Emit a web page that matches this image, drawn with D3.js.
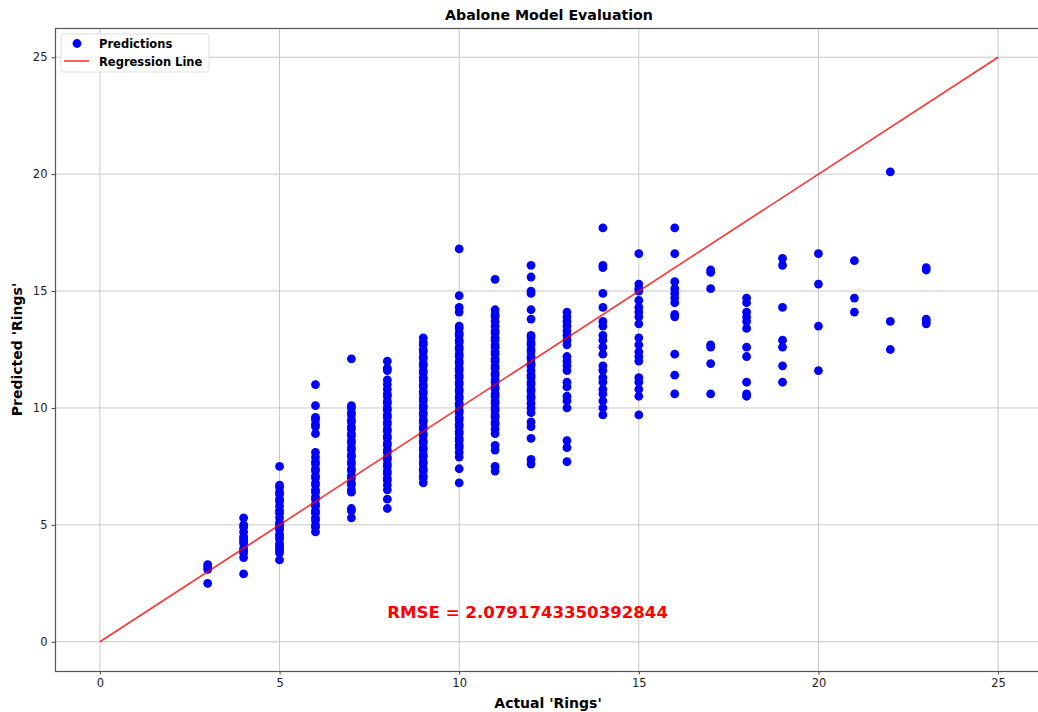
<!DOCTYPE html>
<html>
<head>
<meta charset="utf-8">
<script src="https://cdn.jsdelivr.net/npm/d3@7"></script>
<style>
  body { margin: 0; background: #fff; }
  text { font-family: "DejaVu Sans", sans-serif; }
</style>
</head>
<body>
<div id="viz"></div>
<script>
// Predicted rings for each actual ring count
const pred3 = [3.3, 3.2, 3.1, 2.5];
const pred4 = [5.3, 5.0, 4.9, 4.7, 4.5, 4.4, 4.3, 4.2, 4.0, 3.9, 3.8, 3.6, 2.9];
const pred5 = [7.5, 6.7, 6.6, 6.4, 6.3, 6.1, 6.0, 5.8, 5.6, 5.5, 5.3, 5.1, 5.0, 4.9, 4.8, 4.6, 4.5, 4.4, 4.2, 4.1, 4.0, 3.9, 3.8, 3.5];
const pred6 = [11.0, 10.1, 9.6, 9.5, 9.3, 9.2, 8.9, 8.1, 7.9, 7.7, 7.6, 7.4, 7.3, 7.1, 7.0, 6.8, 6.7, 6.5, 6.4, 6.2, 6.1, 5.9, 5.8, 5.6, 5.5, 5.3, 5.2, 5.0, 4.9, 4.7];
const pred7 = [12.1, 10.1, 10.0, 9.8, 9.7, 9.5, 9.4, 9.2, 9.1, 8.9, 8.8, 8.6, 8.5, 8.3, 8.2, 8.0, 7.9, 7.7, 7.6, 7.4, 7.3, 7.1, 7.0, 6.8, 6.7, 6.5, 6.4, 5.7, 5.6, 5.3];
const pred8 = [12.0, 11.7, 11.6, 11.2, 11.0, 10.8, 10.6, 10.5, 10.3, 10.2, 10.0, 9.9, 9.7, 9.6, 9.4, 9.3, 9.1, 9.0, 8.8, 8.7, 8.5, 8.4, 8.2, 8.1, 7.9, 7.8, 7.6, 7.5, 7.3, 7.2, 7.0, 6.9, 6.7, 6.5, 6.1, 5.7];
const pred9 = [13.0, 12.8, 12.7, 12.5, 12.4, 12.2, 12.1, 11.9, 11.8, 11.6, 11.5, 11.3, 11.2, 11.0, 10.9, 10.7, 10.6, 10.4, 10.3, 10.1, 10.0, 9.8, 9.7, 9.5, 9.4, 9.2, 9.1, 8.9, 8.8, 8.6, 8.5, 8.3, 8.2, 8.0, 7.9, 7.7, 7.6, 7.4, 7.3, 7.1, 7.0, 6.8];
const pred10 = [16.8, 14.8, 14.3, 14.1, 13.5, 13.4, 13.2, 13.1, 12.9, 12.8, 12.6, 12.5, 12.3, 12.2, 12.0, 11.9, 11.7, 11.6, 11.4, 11.3, 11.1, 11.0, 10.8, 10.7, 10.5, 10.4, 10.2, 10.1, 9.9, 9.8, 9.6, 9.5, 9.3, 9.2, 9.0, 8.9, 8.7, 8.6, 8.4, 8.3, 8.1, 7.9, 7.4, 6.8];
const pred11 = [15.5, 14.2, 14.0, 13.9, 13.7, 13.5, 13.3, 13.2, 13.0, 12.9, 12.7, 12.6, 12.4, 12.3, 12.1, 12.0, 11.8, 11.7, 11.5, 11.4, 11.2, 11.1, 10.9, 10.8, 10.6, 10.5, 10.3, 10.2, 10.0, 9.9, 9.7, 9.6, 9.4, 9.3, 9.1, 8.9, 8.4, 8.2, 7.5, 7.3];
const pred12 = [16.1, 15.6, 15.0, 14.9, 14.2, 13.8, 13.1, 13.0, 12.8, 12.7, 12.5, 12.4, 12.2, 12.1, 11.9, 11.8, 11.6, 11.4, 11.3, 11.1, 11.0, 10.8, 10.7, 10.5, 10.4, 10.2, 10.0, 9.8, 9.4, 9.2, 8.7, 7.8, 7.6];
const pred13 = [14.1, 13.9, 13.7, 13.5, 13.3, 13.1, 12.9, 12.7, 12.2, 12.0, 11.8, 11.6, 11.1, 10.9, 10.5, 10.3, 10.0, 8.6, 8.3, 7.7];
const pred14 = [17.7, 16.1, 16.0, 14.9, 14.3, 13.7, 13.5, 13.1, 12.9, 12.6, 12.3, 11.8, 11.6, 11.3, 11.1, 10.8, 10.6, 10.3, 10.0, 9.7];
const pred15 = [16.6, 15.3, 15.1, 15.0, 14.6, 14.3, 14.1, 13.9, 13.6, 13.0, 12.7, 12.4, 12.2, 12.0, 11.3, 11.1, 10.8, 10.5, 9.7];
const pred16 = [17.7, 16.6, 15.4, 15.1, 14.9, 14.7, 14.5, 14.0, 13.9, 12.3, 11.4, 10.6];
const pred17 = [15.9, 15.8, 15.1, 12.7, 12.6, 11.9, 10.6];
const pred18 = [14.7, 14.5, 14.1, 13.9, 13.7, 13.4, 12.6, 12.2, 11.1, 10.6, 10.5];
const pred19 = [16.4, 16.1, 14.3, 12.9, 12.6, 11.8, 11.1];
const pred20 = [16.6, 15.3, 13.5, 11.6];
const pred21 = [16.3, 14.7, 14.1];
const pred22 = [20.1, 13.7, 12.5];
const pred23 = [16.0, 15.9, 13.8, 13.7, 13.6];

const actualRings = [3, 4, 5, 6, 7, 8, 9, 10, 11, 12, 13, 14, 15, 16, 17, 18, 19, 20, 21, 22, 23];
const predictedByRing = [pred3, pred4, pred5, pred6, pred7, pred8, pred9, pred10, pred11, pred12,
  pred13, pred14, pred15, pred16, pred17, pred18, pred19, pred20, pred21, pred22, pred23];

const tickValues = [0, 5, 10, 15, 20, 25];
const lineEnds = [0, 25];
const rmse = '2.0791743350392844';

const points = [];
actualRings.forEach((r, i) => {
  predictedByRing[i].forEach((p) => points.push({ actual: r, predicted: p }));
});

const W = 1038, H = 712;
const margin = { top: 28, left: 55 };
const plotW = 988, plotH = 643;

const svg = d3.select('#viz').append('svg')
  .attr('width', W)
  .attr('height', H);

const x = d3.scaleLinear().domain([-1.25, 26.25]).range([margin.left, margin.left + plotW]);
const y = d3.scaleLinear().domain([-1.25, 26.25]).range([margin.top + plotH, margin.top]);

// Grid
const grid = svg.append('g');
grid.selectAll('.gx').data(tickValues).enter().append('line')
  .attr('x1', (d) => x(d)).attr('x2', (d) => x(d))
  .attr('y1', margin.top).attr('y2', margin.top + plotH)
  .attr('stroke', '#c8c8c8').attr('stroke-width', 1);
grid.selectAll('.gy').data(tickValues).enter().append('line')
  .attr('x1', margin.left).attr('x2', margin.left + plotW)
  .attr('y1', (d) => y(d)).attr('y2', (d) => y(d))
  .attr('stroke', '#c8c8c8').attr('stroke-width', 1);

// Points
svg.append('g').selectAll('circle').data(points).enter().append('circle')
  .attr('cx', (d) => x(d.actual))
  .attr('cy', (d) => y(d.predicted))
  .attr('r', 4.4)
  .attr('fill', '#0000ff');

// Regression line
svg.append('line')
  .attr('x1', x(lineEnds[0])).attr('y1', y(lineEnds[0]))
  .attr('x2', x(lineEnds[1])).attr('y2', y(lineEnds[1]))
  .attr('stroke', '#ff0000').attr('stroke-opacity', 0.8).attr('stroke-width', 1.6);

// Axes
const xAxis = svg.append('g')
  .attr('transform', `translate(0,${margin.top + plotH})`)
  .call(d3.axisBottom(x).tickValues(tickValues).tickSize(3.5).tickPadding(4));
const yAxis = svg.append('g')
  .attr('transform', `translate(${margin.left},0)`)
  .call(d3.axisLeft(y).tickValues(tickValues).tickSize(3.5).tickPadding(4));
[xAxis, yAxis].forEach((a) => {
  a.select('.domain').remove();
  a.selectAll('line').attr('stroke', '#444');
  a.selectAll('text').attr('font-size', 11.5).attr('fill', '#222')
    .attr('font-family', '"DejaVu Sans", sans-serif');
});

// Spines
svg.append('rect')
  .attr('x', margin.left + 0.5).attr('y', margin.top + 0.5)
  .attr('width', plotW).attr('height', plotH)
  .attr('fill', 'none').attr('stroke', '#555').attr('stroke-width', 1.2);

// RMSE annotation
svg.append('text')
  .attr('x', x(8)).attr('y', y(1))
  .attr('fill', '#ff0000').attr('font-size', 16.6).attr('font-weight', 'bold')
  .text(`RMSE = ${rmse}`);

// Title and labels
svg.append('text')
  .attr('x', margin.left + plotW / 2).attr('y', 20)
  .attr('text-anchor', 'middle').attr('font-size', 14.2).attr('font-weight', 'bold')
  .text('Abalone Model Evaluation');
svg.append('text')
  .attr('x', margin.left + plotW / 2 - 1).attr('y', 708)
  .attr('text-anchor', 'middle').attr('font-size', 14).attr('font-weight', 'bold')
  .text("Actual 'Rings'");
svg.append('text')
  .attr('transform', `translate(22,${margin.top + plotH / 2}) rotate(-90)`)
  .attr('text-anchor', 'middle').attr('font-size', 14).attr('font-weight', 'bold')
  .text("Predicted 'Rings'");

// Legend
const legend = svg.append('g').attr('transform', 'translate(61,34)');
legend.append('rect')
  .attr('width', 148).attr('height', 38).attr('rx', 2.5)
  .attr('fill', '#fff').attr('fill-opacity', 0.8)
  .attr('stroke', '#ddd');
legend.append('circle').attr('cx', 16).attr('cy', 9.5).attr('r', 4.4).attr('fill', '#0000ff');
legend.append('line').attr('x1', 3).attr('x2', 28).attr('y1', 27).attr('y2', 27)
  .attr('stroke', '#ff0000').attr('stroke-opacity', 0.8).attr('stroke-width', 1.6);
legend.append('text').attr('x', 38).attr('y', 14).attr('font-size', 11.5).attr('font-weight', 'bold')
  .text('Predictions');
legend.append('text').attr('x', 38).attr('y', 31.5).attr('font-size', 11.5).attr('font-weight', 'bold')
  .text('Regression Line');
</script>
</body>
</html>
